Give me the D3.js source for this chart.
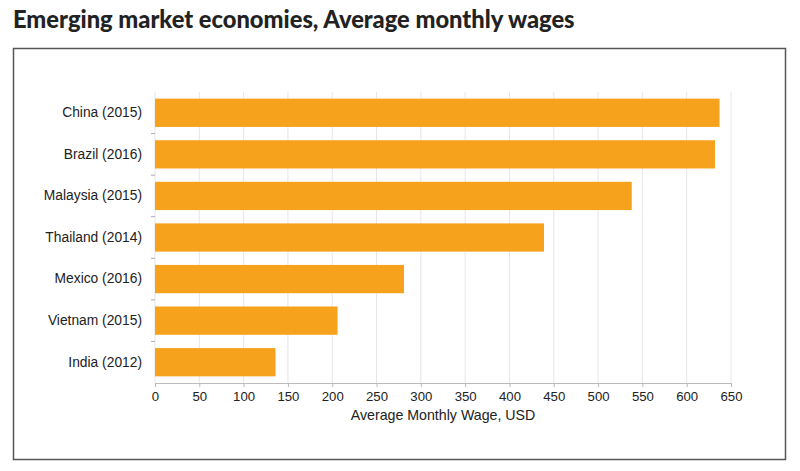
<!DOCTYPE html>
<html><head><meta charset="utf-8">
<script src="https://cdn.jsdelivr.net/npm/d3@7"></script>
<style>body{margin:0;background:#fff;}svg{display:block;}</style>
</head><body>
<svg id="chart" width="800" height="471"></svg>
<script>
const categories = ["China (2015)","Brazil (2016)","Malaysia (2015)","Thailand (2014)","Mexico (2016)","Vietnam (2015)","India (2012)"];
const wages = [637, 632, 538, 439, 281, 206, 136];
const xTicks = [0,50,100,150,200,250,300,350,400,450,500,550,600,650];

const svg = d3.select("#chart");
svg.append("text").attr("x",13).attr("y",28)
  .attr("font-family","Lato, 'Open Sans', sans-serif").attr("font-weight","900")
  .attr("font-size",23.7).attr("fill","#222")
  .text("Emerging market economies, Average monthly wages");

svg.append("rect").attr("x",13.5).attr("y",48.5).attr("width",772).attr("height",411)
  .attr("fill","none").attr("stroke","#555").attr("stroke-width",1.5);

const x = d3.scaleLinear().domain([0,650]).range([155,731]);
const y = d3.scaleBand().domain(categories).range([92,383]).paddingInner(0.32).paddingOuter(0.16);

const g = svg.append("g");
g.selectAll("line.grid").data(xTicks).join("line")
  .attr("x1",d=>x(d)).attr("x2",d=>x(d)).attr("y1",92).attr("y2",383)
  .attr("stroke","#e6e6e6").attr("stroke-width",1);

g.selectAll("rect.bar").data(categories).join("rect")
  .attr("x",x(0)).attr("y",d=>y(d)).attr("width",(d,i)=>x(wages[i])-x(0))
  .attr("height",y.bandwidth()).attr("fill","#f6a21d");

const font = "'Liberation Sans', Arial, sans-serif";
const xa = svg.append("g").attr("transform","translate(0,383)")
  .call(d3.axisBottom(x).tickValues(xTicks).tickSize(4).tickPadding(5));
xa.select(".domain").attr("stroke","#bbb");
xa.selectAll(".tick line").attr("stroke","#bbb");
xa.selectAll("text").attr("font-family",font).attr("font-size",13.2).attr("fill","#222");

const ya = svg.append("g").attr("transform","translate(155,0)")
  .call(d3.axisLeft(y).tickSize(0).tickPadding(13));
ya.select(".domain").remove();
ya.selectAll("text").attr("font-family",font).attr("font-size",13.8).attr("fill","#222");
const bounds = categories.slice(1).map(c => y(c) - y.step()*y.paddingInner()/2);
svg.selectAll("line.bt").data(bounds).join("line")
  .attr("x1",151).attr("x2",155).attr("y1",d=>d).attr("y2",d=>d)
  .attr("stroke","#aab").attr("stroke-width",1);

svg.append("text").attr("x",443).attr("y",420).attr("text-anchor","middle")
  .attr("font-family",font).attr("font-size",14.2).attr("fill","#222")
  .text("Average Monthly Wage, USD");
</script>
</body></html>
